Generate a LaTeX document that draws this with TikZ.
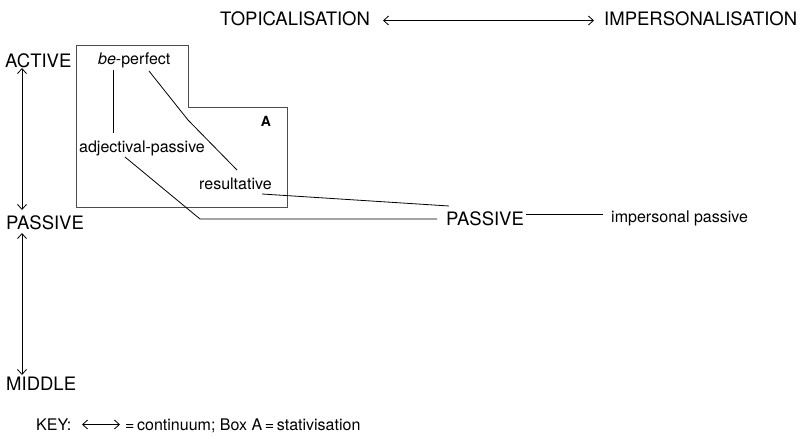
\documentclass[tikz,border=0pt]{standalone}
\usepackage{fontspec}
\setmainfont{TeX Gyre Heros}
\usetikzlibrary{arrows.meta}
\tikzset{
  big/.style={font=\fontsize{18.5}{20}\selectfont, inner sep=0pt, anchor=base west},
  small/.style={font=\fontsize{16}{18}\selectfont, inner sep=0pt, anchor=base west},
  link/.style={line width=0.8pt, black},
  contin/.style={line width=0.8pt, black, {Straight Barb[length=5pt,width=9pt]}-{Straight Barb[length=5pt,width=9pt]}},
  boxA/.style={line width=0.8pt, black!70}
}
\begin{document}
\begin{tikzpicture}[x=1pt,y=-1pt]
\useasboundingbox (0,0) rectangle (806,436);

% stativisation box
\draw[boxA] (76,45) -- (188,45) -- (188,107) -- (287,107) -- (287,207) -- (76,207) -- cycle;
\node[font=\fontsize{14}{16}\selectfont\bfseries, inner sep=0pt] (boxlabel) at (266,121.5) {A};

% top continuum
\node[big] (topic) at (220,26) {TOPICALISATION};
\node[big] (imp) at (604,26) {IMPERSONALISATION};
\coordinate (topL) at (383,20.5);
\coordinate (topR) at (594,20.5);
\draw[contin] (topL) -- (topR);

% voice continuum on the left
\node[big] (active) at (5,67) {ACTIVE};
\node[big] (passL) at (6,229) {PASSIVE};
\node[big] (middle) at (6,390) {MIDDLE};
\coordinate (v1) at (22,68);
\coordinate (v2) at (22,210);
\coordinate (v3) at (22,233);
\coordinate (v4) at (22,375);
\draw[contin] (v1) -- (v2);
\draw[contin] (v3) -- (v4);

% constructions
\node[small] (beperf) at (98,64) {\textit{be}-perfect};
\node[small] (adjp) at (79,152) {adjectival-passive};
\node[small] (result) at (199,189) {resultative};
\node[big] (passM) at (446,225) {PASSIVE};
\node[small] (imppass) at (611,222) {impersonal passive};

% links
\coordinate (a1) at (113,70);
\coordinate (a2) at (113,133);
\draw[link] (a1) -- (a2);

\coordinate (b1) at (149,71);
\coordinate (b2) at (188,120);
\coordinate (b3) at (237,170);
\draw[link] (b1) -- (b2) -- (b3);

\coordinate (c1) at (125,157);
\coordinate (c2) at (200,219);
\coordinate (c3) at (437,219);
\draw[link] (c1) -- (c2) -- (c3);

\coordinate (d1) at (262,194);
\coordinate (d2) at (449,206);
\draw[link] (d1) -- (d2);

\coordinate (e1) at (526,214);
\coordinate (e2) at (603,214);
\draw[link] (e1) -- (e2);

% key
\node[small] (key) at (36,430) {KEY:};
\coordinate (k1) at (82,424.5);
\coordinate (k2) at (120,424.5);
\draw[contin] (k1) -- (k2);
\node[small] (keytext) at (125,430) {=\,continuum; Box A\,=\,stativisation};
\end{tikzpicture}
\end{document}
